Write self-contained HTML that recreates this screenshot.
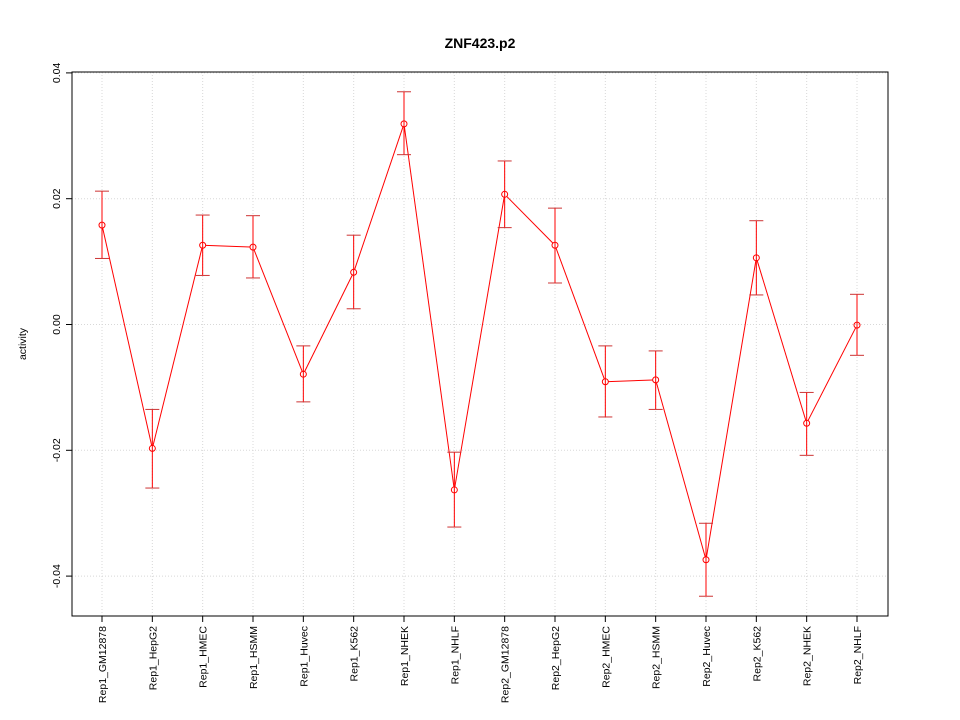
<!DOCTYPE html>
<html><head><meta charset="utf-8"><style>body{margin:0;background:#fff}svg{display:block;font-family:"Liberation Sans",sans-serif}</style></head>
<body>
<svg id="chart" width="960" height="720"></svg>
<script>
const categories=["Rep1_GM12878","Rep1_HepG2","Rep1_HMEC","Rep1_HSMM","Rep1_Huvec","Rep1_K562","Rep1_NHEK","Rep1_NHLF","Rep2_GM12878","Rep2_HepG2","Rep2_HMEC","Rep2_HSMM","Rep2_Huvec","Rep2_K562","Rep2_NHEK","Rep2_NHLF"];
const values=[0.0158,-0.0197,0.0126,0.0123,-0.0079,0.0083,0.0319,-0.0263,0.0207,0.0126,-0.0091,-0.0088,-0.0374,0.0106,-0.0157,-0.0001];
const upper=[0.0212,-0.0135,0.0174,0.0173,-0.0034,0.0142,0.0370,-0.0203,0.0260,0.0185,-0.0034,-0.0042,-0.0316,0.0165,-0.0108,0.0048];
const lower=[0.0105,-0.0260,0.0078,0.0074,-0.0123,0.0025,0.0270,-0.0322,0.0154,0.0066,-0.0147,-0.0135,-0.0432,0.0047,-0.0208,-0.0049];
const yTicks=[-0.04,-0.02,0,0.02,0.04];
const yTickLabels=["-0.04","-0.02","0.00","0.02","0.04"];
const svg=document.getElementById('chart');const NS="http://www.w3.org/2000/svg";
const L=72,R=888,T=72,B=616;
const x=i=>102+i*(857-102)/(categories.length-1);
const y=v=>324.5-v*6290;
function el(t,a,p){const e=document.createElementNS(NS,t);for(const k in a)e.setAttribute(k,a[k]);(p||svg).appendChild(e);return e;}
let t=el('text',{x:480,y:48,'text-anchor':'middle','font-size':14,'font-weight':'bold'});t.textContent="ZNF423.p2";


categories.forEach((c,i)=>{const g=el('line',{x1:x(i),x2:x(i),y1:T,y2:B,stroke:'#d8d8d8','stroke-dasharray':'1,2'});


el('line',{x1:x(i),x2:x(i),y1:B,y2:B+6,stroke:'#000'});
const lb=el('text',{transform:`translate(${x(i)+4},${B+10}) rotate(-90)`,'text-anchor':'end','font-size':10.5});lb.textContent=c;

});
yTicks.forEach((v,i)=>{const g=el('line',{x1:L,x2:R,y1:y(v),y2:y(v),stroke:'#d8d8d8','stroke-dasharray':'1,2'});


el('line',{x1:L-6,x2:L,y1:y(v),y2:y(v),stroke:'#000'});
const lb=el('text',{transform:`translate(${L-12},${y(v)}) rotate(-90)`,'text-anchor':'middle','font-size':10.5});lb.textContent=yTickLabels[i];

});
const yl=el('text',{transform:`translate(26,344) rotate(-90)`,'text-anchor':'middle','font-size':10.5});yl.textContent="activity";


const fr=el('rect',{x:L,y:T,width:R-L,height:B-T,fill:'none',stroke:'#000'});


const r=3;
for(let i=0;i<values.length-1;i++){const x1=x(i),y1=y(values[i]),x2=x(i+1),y2=y(values[i+1]);const dx=x2-x1,dy=y2-y1,d=Math.hypot(dx,dy);
const s=el('line',{x1:x1+dx/d*r,y1:y1+dy/d*r,x2:x2-dx/d*r,y2:y2-dy/d*r,stroke:'#f00'});

}
values.forEach((v,i)=>{const X=x(i);
const e=el('line',{x1:X,x2:X,y1:y(upper[i]),y2:y(lower[i]),stroke:'#f00'});


[upper[i],lower[i]].forEach(u=>el('line',{x1:X-7,x2:X+7,y1:y(u),y2:y(u),stroke:'#c33'}));
const p=el('circle',{cx:X,cy:y(v),r:r,fill:'none',stroke:'#f00'});

});
</script>
</body></html>
